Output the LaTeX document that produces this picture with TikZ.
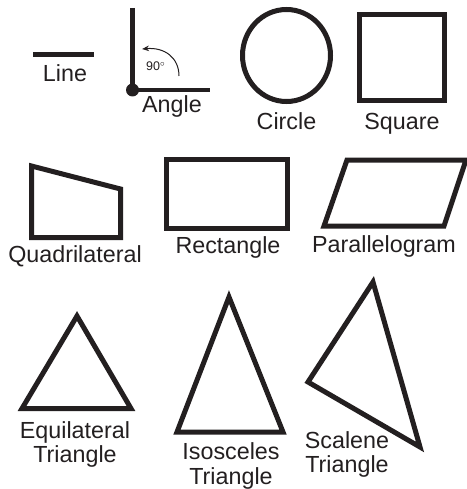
\documentclass[tikz,border=0pt]{standalone}
\usepackage{fontspec}
\setmainfont{Liberation Sans}
\usetikzlibrary{arrows.meta}
\definecolor{ink}{HTML}{231F20}
\begin{document}
\begin{tikzpicture}[x=1pt,y=-1pt,
  figline/.style={draw=ink, line width=5pt, miter limit=10},
  lbl/.style={text=ink, font=\fontsize{23.3}{24.7}\selectfont, inner sep=0pt, anchor=base, align=center},
]
\useasboundingbox (0,0) rectangle (466,489);
% Line
\coordinate (l1) at (33,54.5);
\coordinate (l2) at (94,54.5);
\draw[figline, line width=4.5pt] (l1) -- (l2);
\node[lbl] (tline) at (65,82) {Line};
% Angle
\coordinate (atop) at (132.5,8);
\coordinate (aright) at (210,90);
\node[circle, fill=ink, minimum size=13pt, inner sep=0pt] (dot) at (132.5,90) {};
\draw[figline, line width=4.5pt] (atop) -- (dot.center) -- (aright);
\coordinate (arcs) at (179,76);
\coordinate (arce) at (142,49);
\draw[ink, line width=1pt, -{Stealth[length=7pt,width=5.5pt]}] (arcs) .. controls (179,58) and (165,47) .. (arce);
\node[text=ink, font=\fontsize{12.5}{14}\selectfont, anchor=base west, inner sep=0pt] (deg) at (146,71) {90$^{\circ}$};
\node[lbl] (tangle) at (172,113) {Angle};
% Circle
\draw[figline] (286.5,55.5) ellipse [x radius=44, y radius=46];
\node[lbl] (tcircle) at (286.5,130) {Circle};
% Square
\draw[figline] (359.5,14.5) rectangle (444.5,100.5);
\node[lbl] (tsquare) at (402,130) {Square};
% Quadrilateral
\draw[figline] (31.5,166) -- (120.5,189) -- (120.5,237.5) -- (31.5,237.5) -- cycle;
\node[lbl] (tquad) at (75,262) {Quadrilateral};
% Rectangle
\draw[figline] (166.5,159.5) rectangle (287.5,228.5);
\node[lbl] (trect) at (228,253) {Rectangle};
% Parallelogram
\draw[figline] (347,160) -- (466,160) -- (444,226) -- (324,226) -- cycle;
\node[lbl] (tpar) at (384,252) {Parallelogram};
% Equilateral
\draw[figline] (77,316) -- (131,408.5) -- (22,408.5) -- cycle;
\node[lbl] (tequi) at (75,462.7) {Equilateral\\Triangle};
% Isosceles
\draw[figline] (229,297) -- (283,432) -- (177,432) -- cycle;
\node[lbl] (tiso) at (231,484) {Isosceles\\Triangle};
% Scalene
\draw[figline] (373,282) -- (420,447) -- (308,382) -- cycle;
\node[lbl] (tscal) at (347,472.7) {Scalene\\Triangle};
\end{tikzpicture}
\end{document}
